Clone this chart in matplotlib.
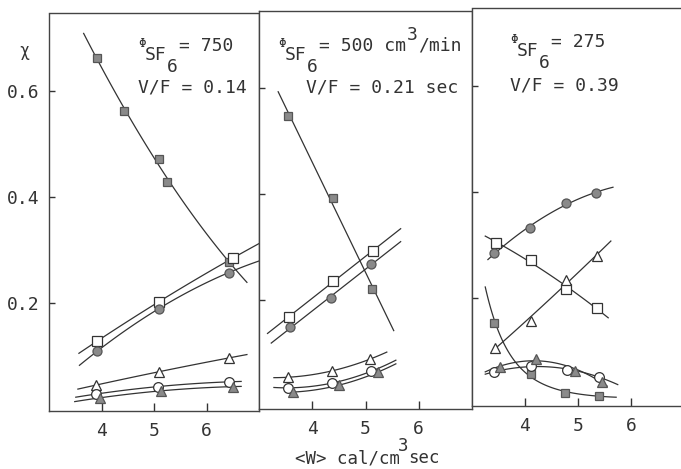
import matplotlib.pyplot as plt
import numpy as np

W, H = 681, 469

# ---- panel 1 : Phi_SF6 = 750, V/F = 0.14 ----
p1_fsq_x = [3.92, 4.42, 5.09, 5.25, 6.43]
p1_fsq_y = [0.662, 0.562, 0.472, 0.428, 0.277]
p1_osq_x = [3.92, 5.09, 6.51]
p1_osq_y = [0.128, 0.202, 0.285]
p1_fci_x = [3.92, 5.09, 6.42]
p1_fci_y = [0.109, 0.189, 0.257]
p1_otr_x = [3.90, 5.09, 6.42]
p1_otr_y = [0.045, 0.070, 0.096]
p1_oci_x = [3.90, 5.07, 6.42]
p1_oci_y = [0.028, 0.042, 0.051]
p1_ftr_x = [3.98, 5.13, 6.50]
p1_ftr_y = [0.021, 0.034, 0.042]

# ---- panel 2 : Phi_SF6 = 500 cm3/min, V/F = 0.21 sec ----
p2_fsq_x = [3.55, 4.39, 5.12]
p2_fsq_y = [0.548, 0.393, 0.221]
p2_osq_x = [3.57, 4.39, 5.14]
p2_osq_y = [0.169, 0.237, 0.293]
p2_fci_x = [3.59, 4.36, 5.10]
p2_fci_y = [0.150, 0.204, 0.269]
p2_otr_x = [3.55, 4.37, 5.08]
p2_otr_y = [0.055, 0.067, 0.089]
p2_oci_x = [3.55, 4.37, 5.10]
p2_oci_y = [0.035, 0.044, 0.066]
p2_ftr_x = [3.64, 4.50, 5.24]
p2_ftr_y = [0.027, 0.040, 0.065]

# ---- panel 3 : Phi_SF6 = 275, V/F = 0.39 ----
p3_fci_x = [3.42, 4.09, 4.77, 5.34]
p3_fci_y = [0.284, 0.332, 0.379, 0.398]
p3_osq_x = [3.45, 4.11, 4.77, 5.36]
p3_osq_y = [0.304, 0.272, 0.217, 0.181]
p3_otr_x = [3.43, 4.11, 4.77, 5.36]
p3_otr_y = [0.106, 0.157, 0.234, 0.279]
p3_fsq_x = [3.42, 4.11, 4.75, 5.40]
p3_fsq_y = [0.153, 0.057, 0.021, 0.015]
p3_oci_x = [3.42, 4.11, 4.79, 5.40]
p3_oci_y = [0.060, 0.072, 0.064, 0.051]
p3_ftr_x = [3.53, 4.21, 4.94, 5.45]
p3_ftr_y = [0.070, 0.085, 0.062, 0.042]

# fit curves: x extent, polynomial degree
p1_fits = {"fsq": (3.66, 6.77, 2), "osq": (3.57, 7.0, 2), "fci": (3.58, 7.0, 2),
           "otr": (3.55, 6.77, 2), "oci": (3.51, 6.66, 2), "ftr": (3.49, 6.66, 2)}
p2_fits = {"fsq": (3.36, 5.53, 1), "osq": (3.16, 5.66, 1), "fci": (3.23, 5.66, 1),
           "otr": (3.28, 5.40, 2), "oci": (3.28, 5.57, 2), "ftr": (3.52, 5.57, 2)}
p3_fits = {"fci": (3.30, 5.66, 2), "osq": (3.25, 5.57, 2), "otr": (3.45, 5.62, 2),
           "fsq": (3.25, 5.72, "log"), "oci": (3.25, 5.75, 2), "ftr": (3.25, 5.55, 2)}

yticks = [0.2, 0.4, 0.6]
ytick_labels = ["0.2", "0.4", "0.6"]
xticks = [4, 5, 6]
xtick_labels = ["4", "5", "6"]

GRAY = "#8a8a8a"
INK = "#333333"
FONT = "DejaVu Sans Mono"

STYLE = {
    "fsq": dict(marker="s", ms=6, mfc=GRAY, mec="#555555"),
    "osq": dict(marker="s", ms=6.5, mfc="white", mec=INK),
    "fci": dict(marker="o", ms=6.5, mfc=GRAY, mec="#555555"),
    "oci": dict(marker="o", ms=7, mfc="white", mec=INK),
    "otr": dict(marker="^", ms=7.5, mfc="white", mec=INK),
    "ftr": dict(marker="^", ms=6.5, mfc=GRAY, mec="#555555"),
}

panels = [
    ({"fsq": (p1_fsq_x, p1_fsq_y), "osq": (p1_osq_x, p1_osq_y),
      "fci": (p1_fci_x, p1_fci_y), "otr": (p1_otr_x, p1_otr_y),
      "oci": (p1_oci_x, p1_oci_y), "ftr": (p1_ftr_x, p1_ftr_y)}, p1_fits),
    ({"fsq": (p2_fsq_x, p2_fsq_y), "osq": (p2_osq_x, p2_osq_y),
      "fci": (p2_fci_x, p2_fci_y), "otr": (p2_otr_x, p2_otr_y),
      "oci": (p2_oci_x, p2_oci_y), "ftr": (p2_ftr_x, p2_ftr_y)}, p2_fits),
    ({"fsq": (p3_fsq_x, p3_fsq_y), "osq": (p3_osq_x, p3_osq_y),
      "fci": (p3_fci_x, p3_fci_y), "otr": (p3_otr_x, p3_otr_y),
      "oci": (p3_oci_x, p3_oci_y), "ftr": (p3_ftr_x, p3_ftr_y)}, p3_fits),
]

# axes boxes in pixels: left, right, top, bottom (scan is slightly tilted)
boxes = [(49, 259, 13.5, 411), (259, 472, 11, 408.5), (472, 684, 8.5, 406)]


def fit_curve(x, y, x0, x1, deg):
    xs = np.linspace(x0, x1, 120)
    if deg == "log":
        c = np.polyfit(x, np.log(y), 2)
        return xs, np.exp(np.polyval(c, xs))
    c = np.polyfit(x, y, deg)
    return xs, np.polyval(c, xs)


def ptext(px, py, s, size=13, **kw):
    fig.text(px / W, 1 - py / H, s, fontsize=size, family=FONT, color=INK,
             ha="left", va="baseline", **kw)


fig = plt.figure(figsize=(W / 100, H / 100), dpi=100)

for i, ((series, fits), (l, r, t, b)) in enumerate(zip(panels, boxes)):
    ax = fig.add_axes([l / W, 1 - b / H, (r - l) / W, (b - t) / H])
    for key, (xv, yv) in series.items():
        x0, x1, deg = fits[key]
        cx, cy = fit_curve(xv, yv, x0, x1, deg)
        ax.plot(cx, cy, color=INK, lw=0.9, zorder=2)
        ax.plot(xv, yv, ls="none", mew=0.9, zorder=3, **STYLE[key])
    ax.set_xlim(3, 7)
    ax.set_ylim(-0.004, 0.746)
    ax.set_xticks(xticks)
    ax.set_xticklabels(xtick_labels, family=FONT, fontsize=13, color=INK)
    ax.set_yticks(yticks)
    if i == 0:
        ax.set_yticklabels(ytick_labels, family=FONT, fontsize=13, color=INK)
    else:
        ax.set_yticklabels([])
    ax.tick_params(axis="x", direction="in", length=6, width=1, pad=8, colors=INK)
    ax.tick_params(axis="y", direction="in", length=4, width=1, pad=7, colors=INK)
    for sp in ax.spines.values():
        sp.set_color("#444444")
        sp.set_linewidth(1)
    if i == 2:
        ax.spines["right"].set_visible(False)

# y axis label
fig.text(24 / W, 1 - 51 / H, "χ", fontsize=12, family=FONT, color=INK,
         ha="center", va="center")


def phi_label(px, base, rest):
    ptext(px, base, "Φ", size=9)
    ptext(px + 7, base + 13, "SF")
    ptext(px + 29, base + 25, "6")
    ptext(px + 41, base + 4, rest)


phi_label(138, 47, "= 750")
ptext(138, 92, "V/F = 0.14")

phi_label(278, 47, "= 500 cm")
ptext(407, 40, "3")
ptext(418, 51, "/min")
ptext(306, 92, "V/F = 0.21 sec")

phi_label(510, 43, "= 275")
ptext(510, 90, "V/F = 0.39")

# x axis label
ptext(295, 463, "<W> cal/cm", size=12.5)
ptext(398, 451, "3", size=12.5)
ptext(408, 463, "sec", size=12.5)

fig.savefig("out.png", dpi=100)
